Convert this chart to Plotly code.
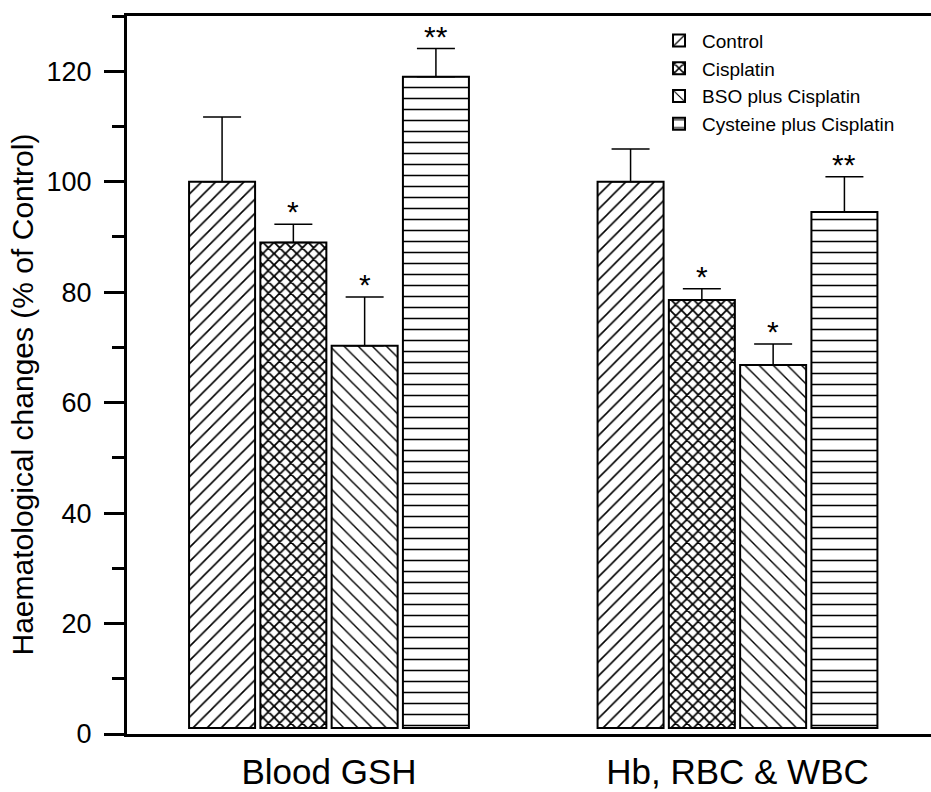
import plotly.graph_objects as go

categories = ["Blood GSH", "Hb, RBC & WBC"]
series_names = ["Control", "Cisplatin", "BSO plus Cisplatin", "Cysteine plus Cisplatin"]
control = [100.0, 100.0]
cisplatin = [89.0, 78.6]
bso = [70.3, 66.8]
cysteine = [119.0, 94.5]
control_err = [11.7, 5.9]
cisplatin_err = [3.3, 2.0]
bso_err = [8.8, 3.8]
cysteine_err = [5.1, 6.4]
significance = [["", "*", "*", "**"], ["", "*", "*", "**"]]
y_ticks = [0, 20, 40, 60, 80, 100, 120]

values = [control, cisplatin, bso, cysteine]
errors = [control_err, cisplatin_err, bso_err, cysteine_err]
patterns = [
    dict(shape="/", size=10, solidity=0.16),
    dict(shape="x", size=8, solidity=0.4),
    dict(shape="\\", size=10, solidity=0.14),
    dict(shape="-", size=11, solidity=0.14),
]

BAR_BASE = 1.1
BARGAP = 0.302
BARGROUPGAP = 0.074

fig = go.Figure()
for name, vals, errs, pat in zip(series_names, values, errors, patterns):
    fig.add_trace(go.Bar(
        name=name,
        x=categories,
        y=[v - BAR_BASE for v in vals],
        base=BAR_BASE,
        marker=dict(
            color="white",
            line=dict(color="black", width=2),
            pattern=dict(fgcolor="black", bgcolor="white", fillmode="replace", **pat),
        ),
        error_y=dict(type="data", array=errs, arrayminus=[0] * len(errs),
                     symmetric=False, color="black", thickness=1.5, width=19),
    ))

# significance markers above the error bars
n = len(series_names)
slot = (1 - BARGAP) / n
annotations = []
for ci in range(len(categories)):
    for si in range(n):
        txt = significance[ci][si]
        if not txt:
            continue
        xpos = ci - (1 - BARGAP) / 2 + slot * (si + 0.5)
        annotations.append(dict(
            x=xpos, y=values[si][ci] + errors[si][ci], xref="x", yref="y",
            text=txt, showarrow=False, yanchor="bottom", yshift=-6,
            font=dict(family="Liberation Sans, Arial", size=30, color="black"),
        ))

annotations.append(dict(
    x=-0.13, y=0.4735, xref="paper", yref="paper",
    text="Haematological changes (% of Control)", showarrow=False,
    textangle=-90, xanchor="center", yanchor="middle",
    font=dict(family="Liberation Sans, Arial", size=30, color="black"),
))

fig.update_layout(
    width=931, height=792,
    margin=dict(l=127, r=0, t=16, b=58),
    paper_bgcolor="white", plot_bgcolor="white",
    barmode="group", bargap=BARGAP, bargroupgap=BARGROUPGAP,
    font=dict(family="Liberation Sans, Arial", color="black"),
    showlegend=True,
    legend=dict(
        x=0.658, y=0.992, xanchor="left", yanchor="top",
        bgcolor="rgba(0,0,0,0)", borderwidth=0,
        font=dict(family="Liberation Sans, Arial", size=19, color="black"),
        itemwidth=36, tracegroupgap=0,
    ),
    annotations=annotations,
)
fig.update_xaxes(
    range=[-0.4945, 1.4737],
    showline=True, linecolor="black", linewidth=3, mirror=True,
    ticks="", showgrid=False, zeroline=False,
    ticklabelstandoff=5,
    tickfont=dict(family="Liberation Sans, Arial", size=35, color="black"),
)
fig.update_yaxes(
    range=[0, 130],
    tickvals=y_ticks,
    showline=True, linecolor="black", linewidth=3, mirror=False,
    ticks="outside", ticklen=20, tickwidth=3, tickcolor="black",
    ticklabelstandoff=7,
    minor=dict(dtick=10, tick0=0, ticks="outside", ticklen=12, tickwidth=3, tickcolor="black", showgrid=False),
    showgrid=False, zeroline=False,
    tickfont=dict(family="Liberation Sans, Arial", size=27, color="black"),
)

fig.write_html("out.html", config={"displayModeBar": False},
               post_script="document.body.style.margin='0';")
